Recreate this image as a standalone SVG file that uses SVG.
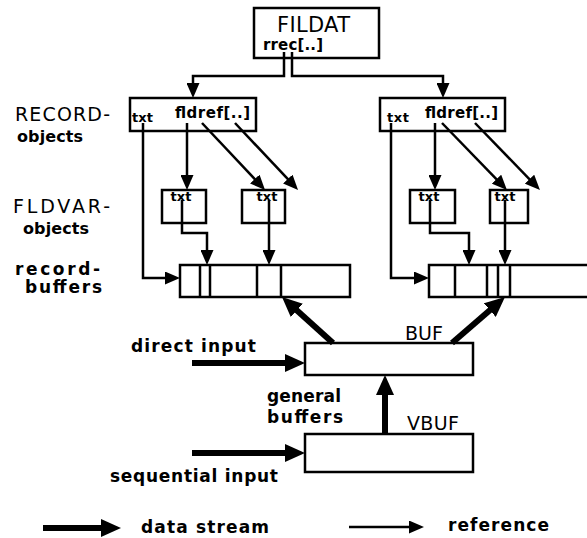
<svg xmlns="http://www.w3.org/2000/svg" width="587" height="538" viewBox="0 0 587 538">
<style>
.box{fill:#fff;stroke:#000;stroke-width:2.5}
.div{stroke:#000;stroke-width:2.5;fill:none}
.ref{fill:none;stroke:#000;stroke-width:2.5;marker-end:url(#ah)}
.dat{fill:none;stroke:#000;stroke-width:6;marker-end:url(#ahb)}
text{font-family:"DejaVu Sans","Liberation Sans",sans-serif;fill:#000}
.cap{font-size:19px}
.lb{font-size:17px;font-weight:bold}
.ob{font-size:16px;font-weight:bold}
.sm{font-size:13px;font-weight:bold}
.fr{font-size:15px;font-weight:bold}
</style>
<defs>
<marker id="ah" markerUnits="userSpaceOnUse" markerWidth="15" markerHeight="13" refX="5" refY="6.5" orient="auto"><path d="M0,0 L15,6.5 L0,13 z" fill="#000"/></marker>
<marker id="ahb" markerUnits="userSpaceOnUse" markerWidth="20" markerHeight="18" refX="8" refY="9" orient="auto"><path d="M0,0 L20,9 L0,18 z" fill="#000"/></marker>
</defs>
<rect width="587" height="538" fill="#fff"/>

<g id="labels">
<text class="cap" x="15" y="121" textLength="95">RECORD-</text>
<text class="ob" x="17" y="142" textLength="66">objects</text>
<text class="cap" x="13" y="213" textLength="97">FLDVAR-</text>
<text class="ob" x="23" y="234" textLength="66">objects</text>
<text class="lb" x="15" y="275" textLength="85">record-</text>
<text class="lb" x="25" y="293" textLength="77">buffers</text>
<text class="lb" x="131" y="352" textLength="125">direct input</text>
<text class="lb" x="267" y="402" textLength="74">general</text>
<text class="lb" x="267" y="423" textLength="76">buffers</text>
<text class="lb" x="110" y="482" textLength="168">sequential input</text>
</g>

<g id="fildat">
<rect class="box" x="254" y="8" width="125" height="50"/>
<text x="277" y="32" font-size="21" textLength="73">FILDAT</text>
<text class="fr" x="263" y="50" textLength="60">rrec[..]</text>
</g>

<g id="record-left">
<rect class="box" x="130" y="98" width="126" height="33"/>
<text class="sm" x="132" y="122" textLength="21">txt</text>
<text class="fr" x="175" y="118" textLength="75">fldref[..]</text>
</g>
<g id="record-right">
<rect class="box" x="380" y="98" width="125" height="33"/>
<text class="sm" x="387" y="122" textLength="22">txt</text>
<text class="fr" x="425" y="118" textLength="73">fldref[..]</text>
</g>

<g id="fldvar-l1"><rect class="box" x="162" y="190" width="44" height="33"/><text class="sm" x="181" y="201" text-anchor="middle">txt</text></g>
<g id="fldvar-l2"><rect class="box" x="242" y="190" width="43" height="33"/><text class="sm" x="267" y="201" text-anchor="middle">txt</text></g>
<g id="fldvar-r1"><rect class="box" x="410" y="190" width="45" height="33"/><text class="sm" x="429" y="201" text-anchor="middle">txt</text></g>
<g id="fldvar-r2"><rect class="box" x="490" y="190" width="38" height="33"/><text class="sm" x="505" y="201" text-anchor="middle">txt</text></g>

<g id="recbuf-left">
<rect class="box" x="180" y="265" width="170" height="32"/>
<path class="div" d="M200,265V297M210,265V297M257,265V297M281,265V297"/>
</g>
<g id="recbuf-right">
<path class="div" d="M590,265H429V297H590"/>
<path class="div" d="M455,265V297M487,265V297M498,265V297M510,265V297"/>
</g>

<g id="buf">
<rect class="box" x="305" y="343" width="168" height="32"/>
<text x="405" y="340" font-size="19" textLength="38">BUF</text>
</g>
<g id="vbuf">
<rect class="box" x="305" y="434" width="168" height="38"/>
<text x="407" y="430" font-size="19" textLength="52">VBUF</text>
</g>

<g id="connectors">
<path class="ref" d="M284,52V76H193V88"/>
<path class="ref" d="M292,52V76H443V88"/>
<path class="ref" d="M143,123V278H170"/>
<path class="ref" d="M187,123V180"/>
<path class="ref" d="M202,123L258.2,182.7"/>
<path class="ref" d="M235,123L291.2,182.7"/>
<path class="ref" d="M182,200V233H207V255"/>
<path class="ref" d="M269,200V255"/>
<path class="ref" d="M391,123V278H419"/>
<path class="ref" d="M435,123V180"/>
<path class="ref" d="M442,123L500,182.8"/>
<path class="ref" d="M475,123L533,182.8"/>
<path class="ref" d="M430,200V233H469V255"/>
<path class="ref" d="M505,200V255"/>
<path class="dat" d="M333,343L290.9,305"/>
<path class="dat" d="M452,343L495.9,304.9"/>
<path class="dat" d="M385,434V387"/>
<path class="dat" d="M192,363H293"/>
<path class="dat" d="M192,453H293"/>
</g>

<g id="legend">
<path class="dat" d="M43,528H109"/>
<text class="lb" x="141" y="533" textLength="128">data stream</text>
<path class="ref" d="M349,527H414"/>
<text class="lb" x="448" y="531" textLength="101">reference</text>
</g>
</svg>
